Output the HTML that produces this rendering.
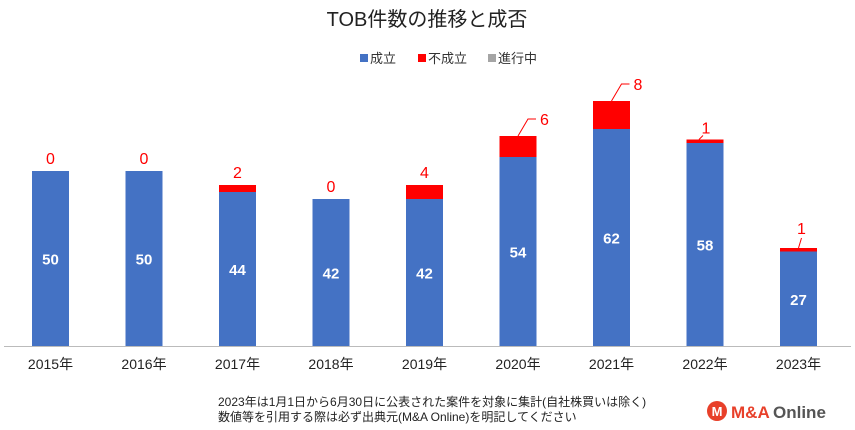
<!DOCTYPE html>
<html><head><meta charset="utf-8"><style>
body{margin:0;background:#fff;}
svg{display:block;font-family:"Liberation Sans","Noto Sans CJK JP",sans-serif;}
</style></head><body>
<svg width="855" height="430">
<text x="427" y="26" text-anchor="middle" font-size="20" fill="#222">TOB件数の推移と成否</text>
<g font-size="13" fill="#333">
<rect x="360" y="54" width="8" height="8" fill="#4472C4"/>
<text x="370" y="63">成立</text>
<rect x="418" y="54" width="8" height="8" fill="#FF0000"/>
<text x="428" y="63">不成立</text>
<rect x="488" y="54" width="8" height="8" fill="#A5A5A5"/>
<text x="498" y="63">進行中</text>
</g>
<line x1="4" y1="346.5" x2="851" y2="346.5" stroke="#bbb"/>
<g id="bars"></g>
<g font-size="12" fill="#222">
<text x="218" y="406">2023年は1月1日から6月30日に公表された案件を対象に集計(自社株買いは除く)</text>
<text x="218" y="421">数値等を引用する際は必ず出典元(M&amp;A Online)を明記してください</text>
</g>
<g>
<circle cx="717" cy="411" r="10" fill="#E8402A"/>
<text x="717" y="416" text-anchor="middle" font-size="13" font-weight="bold" fill="#fff">M</text>
<text x="731" y="418" font-size="17" font-weight="bold" fill="#E8402A">M&amp;A</text>
<text x="773" y="418" font-size="17" font-weight="bold" fill="#555">Online</text>
</g>
</svg>
<script>
const categories=["2015年","2016年","2017年","2018年","2019年","2020年","2021年","2022年","2023年"];
const success=[50,50,44,42,42,54,62,58,27];
const failed=[0,0,2,0,4,6,8,1,1];
const leader=[false,false,false,false,false,true,true,true,true];
const NS="http://www.w3.org/2000/svg";
const g=document.getElementById('bars');
const base=346,k=3.5,x0=50.5,step=93.5,bw=37;
const xs=i=>x0+i*step, ys=v=>base-v*k;
function mk(t,a){const e=document.createElementNS(NS,t);for(const n in a)e.setAttribute(n,a[n]);g.appendChild(e);return e;}
categories.forEach((c,i)=>{
 const cx=xs(i);
 const b=mk('rect',{x:cx-bw/2,y:ys(success[i]),width:bw,height:success[i]*k,fill:'#4472C4'});
 
 
 if(failed[i]>0){const r=mk('rect',{x:cx-bw/2,y:ys(success[i]+failed[i]),width:bw,height:failed[i]*k,fill:'#FF0000'});
 
 }
 const v=mk('text',{x:cx,y:ys(success[i]/2)+6,'text-anchor':'middle','font-size':15,'font-weight':'bold',fill:'#fff'});
 v.textContent=success[i];
 
 
 const top=ys(success[i]+failed[i]);
 let lx=cx,ly=top-7,anchor='middle';
 if(leader[i]){
  if(i==7){
   mk('line',{x1:cx-6,y1:top,x2:cx-2,y2:top-4,stroke:'#FF0000','stroke-width':1});
   lx=cx+1;ly=top-6;
  } else {
   const ex=cx+(i==8?3:10), ey=top-(i==8?10:17);
   mk('polyline',{points:`${cx},${top} ${ex},${ey} ${ex+(i==8?0:8)},${ey}`,fill:'none',stroke:'#FF0000','stroke-width':1});
   lx=ex+(i==8?0:12);ly=ey+(i==8?-4:6);anchor=i==8?'middle':'start';
  }
 }
 const f=mk('text',{x:lx,y:ly,'text-anchor':anchor,'font-size':16,fill:'#FF0000'});
 f.textContent=failed[i];
 
 
 const l=mk('text',{x:cx,y:369,'text-anchor':'middle','font-size':14,fill:'#222'});
 l.textContent=c;
 
 
});
</script>
</body></html>
